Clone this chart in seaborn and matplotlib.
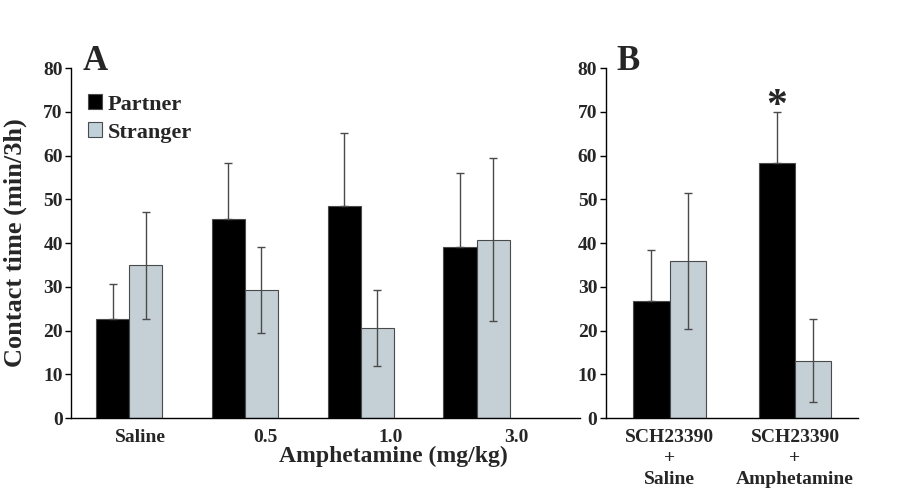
import numpy as np
import pandas as pd
import matplotlib
matplotlib.use("Agg")
import matplotlib.pyplot as plt
import seaborn as sns
from matplotlib.patches import Patch

# values (min/3h), error = upper whisker length
doses = ["Saline", "0.5", "1.0", "3.0"]
partner_a = [22.6, 45.4, 48.5, 39.2]
partner_a_err = [8.0, 12.8, 16.7, 16.9]
stranger_a = [34.9, 29.3, 20.6, 40.8]
stranger_a_err = [12.2, 9.8, 8.7, 18.6]

treatments = ["SCH23390\n+\nSaline", "SCH23390\n+\nAmphetamine"]
partner_b = [26.8, 58.2]
partner_b_err = [11.7, 11.7]
stranger_b = [35.9, 13.1]
stranger_b_err = [15.5, 9.5]

groups = ["Partner", "Stranger"]
colors = {"Partner": "#000000", "Stranger": "#c1d1d9"}
err_color = "#4a4a4a"

sns.set_style("white")
plt.rcParams["font.family"] = ["Liberation Serif", "DejaVu Serif"]
plt.rcParams["font.weight"] = "bold"


def make_df(cats, p, s):
    return pd.DataFrame({
        "cat": list(cats) * 2,
        "group": ["Partner"] * len(cats) + ["Stranger"] * len(cats),
        "value": list(p) + list(s),
    })


def draw_panel(ax, df, cats, p_err, s_err, width):
    sns.barplot(data=df, x="cat", y="value", hue="group", order=cats,
                hue_order=groups, palette=colors, width=width,
                edgecolor=err_color, linewidth=0.8, legend=False, ax=ax)
    # error bars: partner one-sided (lower part hidden by black bar)
    for cont, err, grp in zip(ax.containers, [p_err, s_err], groups):
        xs = [b.get_x() + b.get_width() / 2 for b in cont]
        ys = [b.get_height() for b in cont]
        lo = [0] * len(err) if grp == "Partner" else err
        ax.errorbar(xs, ys, yerr=[lo, err], fmt="none", ecolor=err_color,
                    elinewidth=1.0, capsize=3, capthick=1.0, zorder=3)
    ax.set_ylim(0, 80)
    ax.set_yticks(np.arange(0, 81, 10))
    ax.tick_params(axis="y", direction="out", length=4, width=1,
                   labelsize=14, pad=2, left=True, color="black")
    ax.tick_params(axis="x", length=0, labelsize=14, pad=8)
    for sp in ["top", "right"]:
        ax.spines[sp].set_visible(False)
    for sp in ["left", "bottom"]:
        ax.spines[sp].set_color("black")
        ax.spines[sp].set_linewidth(1.0)
    ax.set_xlabel("")
    ax.set_ylabel("")


fig = plt.figure(figsize=(9, 4.93), dpi=100)
axA = fig.add_axes([0.079, 0.152, 0.565, 0.71])
axB = fig.add_axes([0.673, 0.152, 0.28, 0.71])

# panel A
draw_panel(axA, make_df(doses, partner_a, stranger_a), doses,
           partner_a_err, stranger_a_err, 0.57)
axA.set_xlim(-0.5, 3.89)
axA.set_xticks(np.arange(len(doses)) * 1.08 + 0.1)
axA.set_xticklabels(doses)
axA.set_xlabel("Amphetamine (mg/kg)", fontsize=17, fontweight="bold")
axA.xaxis.set_label_coords(0.633, -0.08)
axA.set_ylabel("Contact time (min/3h)", fontsize=19, fontweight="bold")
axA.yaxis.set_label_coords(-0.087, 0.5)
axA.text(0.022, 0.994, "A", transform=axA.transAxes, fontsize=25,
         fontweight="bold", ha="left", va="baseline")

handles = [Patch(facecolor=colors[g], edgecolor=err_color, linewidth=0.8)
           for g in groups]
axA.legend(handles, groups, loc="upper left", bbox_to_anchor=(0.033, 0.925),
           frameon=False, handlelength=0.65, handleheight=0.65,
           handletextpad=0.25, labelspacing=0.35, borderpad=0,
           borderaxespad=0, prop={"weight": "bold", "size": 16})

# panel B
draw_panel(axB, make_df(treatments, partner_b, stranger_b), treatments,
           partner_b_err, stranger_b_err, 0.58)
axB.set_xlim(-0.51, 1.5)
for lab in axB.get_xticklabels():
    lab.set_linespacing(1.3)
axB.text(0.044, 0.994, "B", transform=axB.transAxes, fontsize=25,
         fontweight="bold", ha="left", va="baseline")

# significance marker over SCH23390 + Amphetamine partner bar
star_bar = axB.containers[0][1]
axB.text(star_bar.get_x() + star_bar.get_width() / 2,
         partner_b[1] + partner_b_err[1] - 1, "*", fontsize=30,
         fontweight="bold", ha="center", va="baseline")

fig.savefig("out.png", dpi=100)
